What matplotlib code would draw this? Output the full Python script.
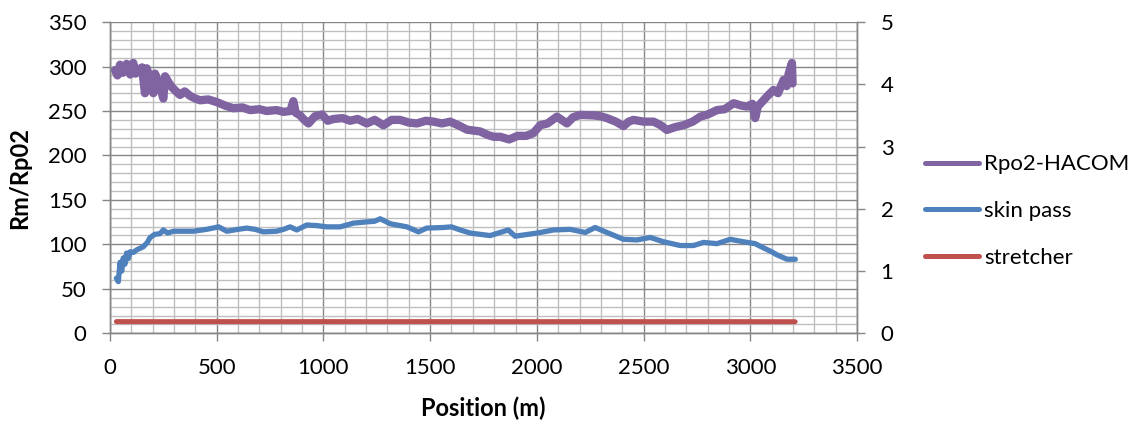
import matplotlib
matplotlib.use("Agg")
import matplotlib.pyplot as plt
from matplotlib.ticker import MultipleLocator
from matplotlib.lines import Line2D

plt.rcParams['font.family'] = ['Lato', 'DejaVu Sans']

# ---- data ----
rpo2_x = [23, 35, 47, 60, 78, 95, 109, 120, 133, 150, 164, 172, 190, 203, 211, 230, 250, 258, 275, 289,
          310, 328, 350, 375, 400, 422, 460, 500, 540, 578, 620, 656, 700, 734, 780, 813, 845, 859, 870, 891,
          910, 930, 960, 993, 1020, 1047, 1090, 1125, 1160, 1203, 1240, 1281, 1320, 1359, 1400, 1438, 1480, 1516, 1555, 1594,
          1640, 1672, 1734, 1770, 1797, 1828, 1870, 1910, 1950, 1983, 2016, 2050, 2094, 2141, 2170, 2203, 2266, 2300, 2328, 2370,
          2406, 2430, 2453, 2500, 2547, 2580, 2609, 2650, 2688, 2730, 2766, 2800, 2844, 2880, 2922, 2960, 2984, 3010, 3023, 3035,
          3062, 3085, 3109, 3130, 3156, 3170, 3180, 3195, 3198]
rpo2_y = [296, 290, 302, 293, 303, 291, 304, 292, 296, 299, 270, 298, 285, 270, 292, 280, 264, 289, 282, 277,
          272, 268, 272, 267, 264, 262, 263, 260, 256, 253, 254, 251, 252, 250, 251, 249, 250, 261, 248, 245,
          240, 236, 244, 246, 239, 241, 242, 239, 241, 236, 240, 234, 240, 240, 237, 236, 239, 238, 236, 238,
          233, 229, 227, 223, 221, 221, 218, 222, 222, 225, 234, 236, 243.6, 236, 243, 245.6, 245, 244, 242, 238,
          233, 238, 240, 238, 238, 234, 228.7, 232, 234, 238, 243.6, 246, 251, 252, 258.7, 256, 255, 258, 242, 255,
          262, 268, 273.6, 270, 285, 278, 292, 304, 281]

skin_x = [30, 39, 47, 55, 62, 70, 78, 86, 95, 110, 125, 156, 175, 188, 210, 234, 250, 270, 297, 350,
          391, 453, 509, 547, 600, 641, 680, 719, 780, 813, 844, 875, 922, 970, 1016, 1078, 1141, 1203, 1240, 1266,
          1313, 1391, 1445, 1484, 1563, 1600, 1641, 1688, 1781, 1866, 1898, 2000, 2078, 2156, 2227, 2273, 2328, 2406, 2469, 2531,
          2594, 2672, 2734, 2781, 2844, 2906, 2969, 3023, 3063, 3100, 3125, 3172, 3211]
skin_y = [0.886, 0.83, 1.14, 1.00, 1.21, 1.11, 1.29, 1.20, 1.31, 1.30, 1.34, 1.39, 1.46, 1.54, 1.59, 1.60, 1.66, 1.61, 1.64, 1.64,
          1.64, 1.67, 1.71, 1.64, 1.67, 1.69, 1.67, 1.63, 1.64, 1.67, 1.71, 1.66, 1.74, 1.73, 1.71, 1.71, 1.77, 1.79, 1.80, 1.84,
          1.76, 1.71, 1.63, 1.69, 1.70, 1.71, 1.66, 1.61, 1.57, 1.66, 1.56, 1.61, 1.66, 1.67, 1.62, 1.70, 1.62, 1.51, 1.50, 1.54,
          1.47, 1.41, 1.41, 1.46, 1.44, 1.51, 1.47, 1.44, 1.37, 1.31, 1.26, 1.19, 1.19]

stretch_x = [30, 250, 500, 750, 1000, 1250, 1500, 1750, 2000, 2250, 2500, 2750, 3000, 3210]
stretch_y = [0.188, 0.187, 0.188, 0.187, 0.188, 0.187, 0.188, 0.187, 0.187, 0.188, 0.187, 0.188, 0.187, 0.186]

labels = ['Rpo2-HACOM', 'skin pass', 'stretcher']
colors = ['#8064A2', '#4F81BD', '#C0504D']

# ---- figure ----
fig = plt.figure(figsize=(11.41, 4.24), dpi=100)
ax = fig.add_axes([0.0964, 0.2139, 0.6547, 0.7341])
ax2 = ax.twinx()

FS = 16
LFS = 17
major_c = '#868686'
minor_c = '#BFBFBF'

ax.plot(rpo2_x, rpo2_y, color=colors[0], lw=6.0, solid_capstyle='round', solid_joinstyle='round')
ax2.plot(skin_x, skin_y, color=colors[1], lw=3.8, solid_capstyle='round', solid_joinstyle='round')
ax2.plot(stretch_x, stretch_y, color=colors[2], lw=3.6, solid_capstyle='round')

ax.set_xlim(0, 3500)
ax.set_ylim(0, 350)
ax2.set_ylim(0, 5)

ax.xaxis.set_major_locator(MultipleLocator(500))
ax.xaxis.set_minor_locator(MultipleLocator(100))
ax.yaxis.set_major_locator(MultipleLocator(50))
ax.yaxis.set_minor_locator(MultipleLocator(10))
ax2.yaxis.set_major_locator(MultipleLocator(1))

ax.grid(which='minor', color=minor_c, lw=1.0)
ax.grid(which='major', color=major_c, lw=1.0)
ax.set_axisbelow(True)

for a in (ax, ax2):
    for s in a.spines.values():
        s.set_color(major_c)
        s.set_linewidth(1.0)
    a.spines['top'].set_visible(False)

ax.tick_params(axis='y', which='major', direction='out', length=6, width=1, color=major_c, labelsize=FS, pad=11)
ax.tick_params(axis='x', which='major', direction='out', length=6, width=1, color=major_c, labelsize=FS, pad=12)
ax.tick_params(which='minor', length=0)
ax2.tick_params(which='major', direction='out', length=6, width=1, color=major_c, labelsize=FS, pad=11)

ax.set_xlabel('Position (m)', fontsize=LFS, fontweight='bold', labelpad=13)
ax.set_ylabel('Rm/Rp02', fontsize=LFS, fontweight='bold', labelpad=12)

handles = [Line2D([], [], color=c, lw=3.6, solid_capstyle='round') for c in colors]
fig.legend(handles, labels, loc='center left', bbox_to_anchor=(0.8107, 0.502),
           frameon=False, fontsize=FS, handlelength=2.45, handletextpad=0.2,
           labelspacing=1.2, borderpad=0, borderaxespad=0)

fig.savefig('out.png', dpi=100)
